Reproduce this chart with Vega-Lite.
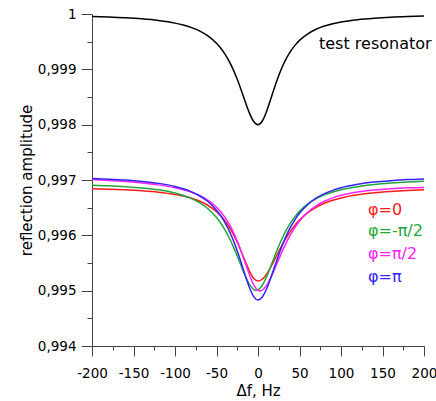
{
  "$schema": "https://vega.github.io/schema/vega-lite/v6.json",
  "width": 332,
  "height": 332,
  "autosize": "none",
  "padding": {"left": 92, "top": 14, "right": 12, "bottom": 55},
  "background": "white",
  "config": {"view": {"stroke": null}, "font": "DejaVu Sans"},
  "datasets": {
    "curves": [
      {"series":"test resonator","f":-200,"v":0.999956},{"series":"test resonator","f":-180,"v":0.999946},{"series":"test resonator","f":-160,"v":0.999932},{"series":"test resonator","f":-140,"v":0.999912},{"series":"test resonator","f":-120,"v":0.999882},{"series":"test resonator","f":-100,"v":0.999835},{"series":"test resonator","f":-90,"v":0.9998},{"series":"test resonator","f":-80,"v":0.999753},{"series":"test resonator","f":-70,"v":0.99969},{"series":"test resonator","f":-60,"v":0.9996},{"series":"test resonator","f":-50,"v":0.999471},{"series":"test resonator","f":-45,"v":0.999385},{"series":"test resonator","f":-40,"v":0.99928},{"series":"test resonator","f":-35,"v":0.999153},{"series":"test resonator","f":-30,"v":0.999},{"series":"test resonator","f":-25,"v":0.99882},{"series":"test resonator","f":-20,"v":0.998615},{"series":"test resonator","f":-15,"v":0.9984},{"series":"test resonator","f":-10,"v":0.9982},{"series":"test resonator","f":-5,"v":0.998054},{"series":"test resonator","f":0,"v":0.998},{"series":"test resonator","f":5,"v":0.998062},{"series":"test resonator","f":10,"v":0.998226},{"series":"test resonator","f":15,"v":0.998446},{"series":"test resonator","f":20,"v":0.998676},{"series":"test resonator","f":25,"v":0.998887},{"series":"test resonator","f":30,"v":0.999069},{"series":"test resonator","f":35,"v":0.99922},{"series":"test resonator","f":40,"v":0.999342},{"series":"test resonator","f":45,"v":0.999442},{"series":"test resonator","f":50,"v":0.999523},{"series":"test resonator","f":60,"v":0.999642},{"series":"test resonator","f":70,"v":0.999724},{"series":"test resonator","f":80,"v":0.999782},{"series":"test resonator","f":90,"v":0.999824},{"series":"test resonator","f":100,"v":0.999855},{"series":"test resonator","f":120,"v":0.999897},{"series":"test resonator","f":140,"v":0.999923},{"series":"test resonator","f":160,"v":0.999941},{"series":"test resonator","f":180,"v":0.999953},{"series":"test resonator","f":200,"v":0.999962},

      {"series":"φ=0","f":-200,"v":0.996843},{"series":"φ=0","f":-180,"v":0.996834},{"series":"φ=0","f":-160,"v":0.996822},{"series":"φ=0","f":-140,"v":0.996805},{"series":"φ=0","f":-120,"v":0.99678},{"series":"φ=0","f":-100,"v":0.996739},{"series":"φ=0","f":-90,"v":0.996709},{"series":"φ=0","f":-80,"v":0.99667},{"series":"φ=0","f":-70,"v":0.996615},{"series":"φ=0","f":-60,"v":0.996539},{"series":"φ=0","f":-50,"v":0.996429},{"series":"φ=0","f":-45,"v":0.996355},{"series":"φ=0","f":-40,"v":0.996266},{"series":"φ=0","f":-35,"v":0.996158},{"series":"φ=0","f":-30,"v":0.996027},{"series":"φ=0","f":-25,"v":0.995874},{"series":"φ=0","f":-20,"v":0.9957},{"series":"φ=0","f":-15,"v":0.995516},{"series":"φ=0","f":-10,"v":0.995345},{"series":"φ=0","f":-5,"v":0.995221},{"series":"φ=0","f":0,"v":0.995175},{"series":"φ=0","f":5,"v":0.995206},{"series":"φ=0","f":10,"v":0.995291},{"series":"φ=0","f":15,"v":0.995416},{"series":"φ=0","f":20,"v":0.99556},{"series":"φ=0","f":25,"v":0.995709},{"series":"φ=0","f":30,"v":0.995851},{"series":"φ=0","f":35,"v":0.99598},{"series":"φ=0","f":40,"v":0.996094},{"series":"φ=0","f":45,"v":0.996192},{"series":"φ=0","f":50,"v":0.996277},{"series":"φ=0","f":60,"v":0.99641},{"series":"φ=0","f":70,"v":0.996508},{"series":"φ=0","f":80,"v":0.99658},{"series":"φ=0","f":90,"v":0.996633},{"series":"φ=0","f":100,"v":0.996675},{"series":"φ=0","f":120,"v":0.996732},{"series":"φ=0","f":140,"v":0.996769},{"series":"φ=0","f":160,"v":0.996793},{"series":"φ=0","f":180,"v":0.996811},{"series":"φ=0","f":200,"v":0.996824},

      {"series":"φ=-π/2","f":-200,"v":0.996903},{"series":"φ=-π/2","f":-180,"v":0.996894},{"series":"φ=-π/2","f":-160,"v":0.996879},{"series":"φ=-π/2","f":-140,"v":0.996856},{"series":"φ=-π/2","f":-120,"v":0.996822},{"series":"φ=-π/2","f":-100,"v":0.996764},{"series":"φ=-π/2","f":-90,"v":0.996721},{"series":"φ=-π/2","f":-80,"v":0.996663},{"series":"φ=-π/2","f":-70,"v":0.996585},{"series":"φ=-π/2","f":-60,"v":0.996476},{"series":"φ=-π/2","f":-50,"v":0.996321},{"series":"φ=-π/2","f":-45,"v":0.996222},{"series":"φ=-π/2","f":-40,"v":0.996104},{"series":"φ=-π/2","f":-35,"v":0.995965},{"series":"φ=-π/2","f":-30,"v":0.995805},{"series":"φ=-π/2","f":-25,"v":0.995626},{"series":"φ=-π/2","f":-20,"v":0.995438},{"series":"φ=-π/2","f":-15,"v":0.995257},{"series":"φ=-π/2","f":-10,"v":0.995108},{"series":"φ=-π/2","f":-5,"v":0.99502},{"series":"φ=-π/2","f":-2,"v":0.995006},{"series":"φ=-π/2","f":0,"v":0.995013},{"series":"φ=-π/2","f":5,"v":0.995093},{"series":"φ=-π/2","f":10,"v":0.99524},{"series":"φ=-π/2","f":15,"v":0.995426},{"series":"φ=-π/2","f":20,"v":0.995622},{"series":"φ=-π/2","f":25,"v":0.995808},{"series":"φ=-π/2","f":30,"v":0.995975},{"series":"φ=-π/2","f":35,"v":0.99612},{"series":"φ=-π/2","f":40,"v":0.996243},{"series":"φ=-π/2","f":45,"v":0.996346},{"series":"φ=-π/2","f":50,"v":0.996433},{"series":"φ=-π/2","f":60,"v":0.996567},{"series":"φ=-π/2","f":70,"v":0.996662},{"series":"φ=-π/2","f":80,"v":0.996732},{"series":"φ=-π/2","f":90,"v":0.996784},{"series":"φ=-π/2","f":100,"v":0.996824},{"series":"φ=-π/2","f":120,"v":0.99688},{"series":"φ=-π/2","f":140,"v":0.996918},{"series":"φ=-π/2","f":160,"v":0.996944},{"series":"φ=-π/2","f":180,"v":0.996964},{"series":"φ=-π/2","f":200,"v":0.996978},

      {"series":"φ=π/2","f":-200,"v":0.997007},{"series":"φ=π/2","f":-180,"v":0.996991},{"series":"φ=π/2","f":-160,"v":0.996972},{"series":"φ=π/2","f":-140,"v":0.996947},{"series":"φ=π/2","f":-120,"v":0.996912},{"series":"φ=π/2","f":-100,"v":0.996861},{"series":"φ=π/2","f":-90,"v":0.996825},{"series":"φ=π/2","f":-80,"v":0.996779},{"series":"φ=π/2","f":-70,"v":0.996716},{"series":"φ=π/2","f":-60,"v":0.99663},{"series":"φ=π/2","f":-50,"v":0.996507},{"series":"φ=π/2","f":-45,"v":0.996426},{"series":"φ=π/2","f":-40,"v":0.996328},{"series":"φ=π/2","f":-35,"v":0.99621},{"series":"φ=π/2","f":-30,"v":0.996066},{"series":"φ=π/2","f":-25,"v":0.995896},{"series":"φ=π/2","f":-20,"v":0.995699},{"series":"φ=π/2","f":-15,"v":0.995485},{"series":"φ=π/2","f":-10,"v":0.995273},{"series":"φ=π/2","f":-5,"v":0.9951},{"series":"φ=π/2","f":0,"v":0.995004},{"series":"φ=π/2","f":2,"v":0.994994},{"series":"φ=π/2","f":5,"v":0.995008},{"series":"φ=π/2","f":10,"v":0.995086},{"series":"φ=π/2","f":15,"v":0.995221},{"series":"φ=π/2","f":20,"v":0.995388},{"series":"φ=π/2","f":25,"v":0.995566},{"series":"φ=π/2","f":30,"v":0.995738},{"series":"φ=π/2","f":35,"v":0.995896},{"series":"φ=π/2","f":40,"v":0.996034},{"series":"φ=π/2","f":45,"v":0.996155},{"series":"φ=π/2","f":50,"v":0.996257},{"series":"φ=π/2","f":60,"v":0.996417},{"series":"φ=π/2","f":70,"v":0.996532},{"series":"φ=π/2","f":80,"v":0.996616},{"series":"φ=π/2","f":90,"v":0.996677},{"series":"φ=π/2","f":100,"v":0.996723},{"series":"φ=π/2","f":120,"v":0.996784},{"series":"φ=π/2","f":140,"v":0.996821},{"series":"φ=π/2","f":160,"v":0.996844},{"series":"φ=π/2","f":180,"v":0.996858},{"series":"φ=π/2","f":200,"v":0.996866},

      {"series":"φ=π","f":-200,"v":0.997027},{"series":"φ=π","f":-180,"v":0.997015},{"series":"φ=π","f":-160,"v":0.996999},{"series":"φ=π","f":-140,"v":0.996975},{"series":"φ=π","f":-120,"v":0.996939},{"series":"φ=π","f":-100,"v":0.996883},{"series":"φ=π","f":-90,"v":0.996841},{"series":"φ=π","f":-80,"v":0.996786},{"series":"φ=π","f":-70,"v":0.996711},{"series":"φ=π","f":-60,"v":0.996606},{"series":"φ=π","f":-50,"v":0.996455},{"series":"φ=π","f":-45,"v":0.996356},{"series":"φ=π","f":-40,"v":0.996236},{"series":"φ=π","f":-35,"v":0.996091},{"series":"φ=π","f":-30,"v":0.995919},{"series":"φ=π","f":-25,"v":0.995717},{"series":"φ=π","f":-20,"v":0.995492},{"series":"φ=π","f":-15,"v":0.995258},{"series":"φ=π","f":-10,"v":0.995043},{"series":"φ=π","f":-5,"v":0.994888},{"series":"φ=π","f":0,"v":0.994831},{"series":"φ=π","f":5,"v":0.994881},{"series":"φ=π","f":10,"v":0.99502},{"series":"φ=π","f":15,"v":0.995216},{"series":"φ=π","f":20,"v":0.995435},{"series":"φ=π","f":25,"v":0.995651},{"series":"φ=π","f":30,"v":0.995849},{"series":"φ=π","f":35,"v":0.996022},{"series":"φ=π","f":40,"v":0.996169},{"series":"φ=π","f":45,"v":0.996294},{"series":"φ=π","f":50,"v":0.996398},{"series":"φ=π","f":60,"v":0.996558},{"series":"φ=π","f":70,"v":0.996671},{"series":"φ=π","f":80,"v":0.996753},{"series":"φ=π","f":90,"v":0.996813},{"series":"φ=π","f":100,"v":0.996859},{"series":"φ=π","f":120,"v":0.996922},{"series":"φ=π","f":140,"v":0.996962},{"series":"φ=π","f":160,"v":0.996988},{"series":"φ=π","f":180,"v":0.997007},{"series":"φ=π","f":200,"v":0.99702}
    ],
    "labels": [
      {"series":"test resonator","f":73.5,"v":0.99936},
      {"series":"φ=0","f":132.5,"v":0.99637},
      {"series":"φ=-π/2","f":132.5,"v":0.99599},
      {"series":"φ=π/2","f":132.5,"v":0.99557},
      {"series":"φ=π","f":132.5,"v":0.99516}
    ]
  },
  "layer": [
    {
      "data": {"name": "curves"},
      "mark": {"type": "line", "interpolate": "monotone", "strokeWidth": 1.5, "clip": true},
      "encoding": {
        "x": {
          "field": "f", "type": "quantitative",
          "scale": {"domain": [-200, 200], "nice": false, "zero": false},
          "axis": {
            "values": [-200,-175,-150,-125,-100,-75,-50,-25,0,25,50,75,100,125,150,175,200],
            "tickCount": 40,
            "title": "Δf, Hz", "titleFontSize": 15, "titleFontWeight": "normal", "titleColor": "#000", "titlePadding": 4,
            "labelFontSize": 13.5, "labelColor": "#000", "labelPadding": 10, "labelFlush": false, "labelOverlap": false,
            "labelExpr": "datum.value % 50 === 0 ? toString(datum.value) : ''",
            "ticks": true,
            "tickSize": 10,
            "tickWidth": 1,
            "tickDash": {"condition": {"test": "datum.value % 50 === 0", "value": [20, 0]}, "value": [4, 30]},
            "domainColor": "#444", "tickColor": "#444", "grid": false
          }
        },
        "y": {
          "field": "v", "type": "quantitative",
          "scale": {"domain": [0.994, 1], "nice": false, "zero": false},
          "axis": {
            "values": [0.994,0.9945,0.995,0.9955,0.996,0.9965,0.997,0.9975,0.998,0.9985,0.999,0.9995,1],
            "tickCount": 40,
            "title": "reflection amplitude", "titleFontSize": 15, "titleFontWeight": "normal", "titleColor": "#000", "titlePadding": 3,
            "labelFontSize": 13.5, "labelColor": "#000", "labelPadding": 5, "labelFlush": false, "labelOverlap": false,
            "labelExpr": "abs(datum.value*1000 - round(datum.value*1000)) < 0.01 ? replace(format(datum.value, '.3~f'), '.', ',') : ''",
            "ticks": true,
            "tickSize": 11,
            "tickWidth": 1,
            "tickDash": {"condition": {"test": "abs(datum.value*1000 - round(datum.value*1000)) < 0.01", "value": [20, 0]}, "value": [5, 30]},
            "domainColor": "#444", "tickColor": "#444", "grid": false
          }
        },
        "color": {
          "field": "series", "type": "nominal",
          "scale": {"domain": ["test resonator","φ=0","φ=-π/2","φ=π/2","φ=π"], "range": ["#000000","#ff1a1a","#1fa83a","#ff22ff","#3322ff"]},
          "legend": null
        }
      }
    },
    {
      "data": {"name": "labels"},
      "mark": {"type": "text", "align": "left", "baseline": "alphabetic", "fontSize": 16},
      "encoding": {
        "x": {"field": "f", "type": "quantitative"},
        "y": {"field": "v", "type": "quantitative"},
        "text": {"field": "series"},
        "color": {"field": "series", "type": "nominal", "legend": null}
      }
    }
  ]
}
